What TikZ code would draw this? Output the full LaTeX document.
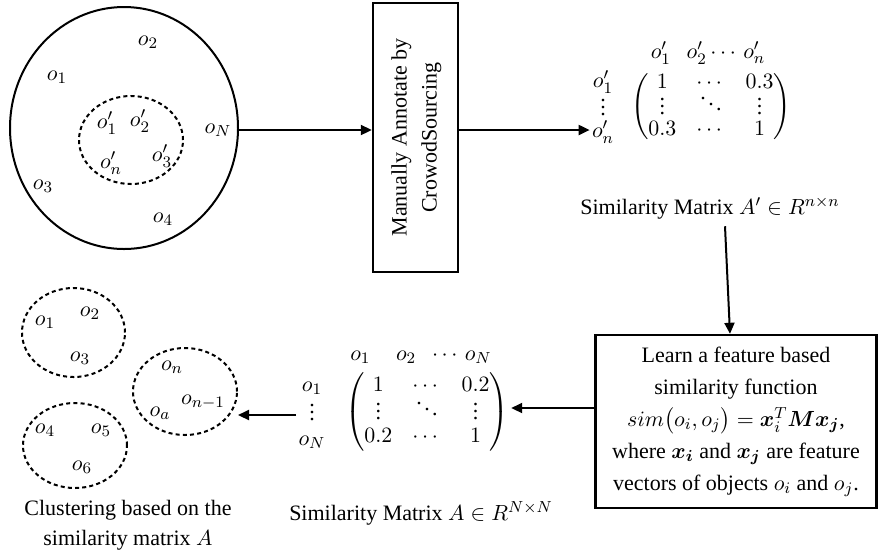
\documentclass[tikz,border=0pt]{standalone}
\usepackage{amsmath,amssymb}
\usepackage{fontspec}
\setmainfont{Liberation Serif}
\usepackage{tikz}
\usetikzlibrary{arrows.meta,positioning,shapes.geometric,calc}
\newcommand{\shortvdots}{\vcenter{\baselineskip3.6pt\lineskiplimit0pt\hbox{.}\hbox{.}\hbox{.}}}
\newcommand{\shortddots}{\mathinner{\mkern1mu\raise6pt\hbox{.}\mkern2mu\raise3.3pt\hbox{.}\mkern2mu\raise0.6pt\hbox{.}\mkern1mu}}

\begin{document}
\begin{tikzpicture}[x=0.5pt, y=-0.5pt,
  every node/.style={font=\fontsize{11}{15}\selectfont},
  blob/.style={draw, ellipse, line width=1pt, inner sep=0pt},
  group/.style={draw, ellipse, dash pattern=on 2pt off 1.6pt, line width=1pt, inner sep=0pt},
  obj/.style={inner sep=1pt},
  stepbox/.style={draw, line width=1.2pt, align=center, inner sep=2pt},
  mat/.style={inner sep=1pt, font=\fontsize{11}{11.75}\selectfont},
  rows/.style={inner sep=1pt, align=center, font=\fontsize{11}{#1}\selectfont},
  caption/.style={align=center, font=\fontsize{11}{15}\selectfont},
  flow/.style={-{Triangle[length=5.5pt,width=5pt]}, line width=1pt}
]
\useasboundingbox (0,0) rectangle (878,554);

% All objects and the annotated sample.
\node[blob, minimum width=114pt, minimum height=121pt] (universe) at (124,128) {};
\node[group, minimum width=52pt, minimum height=44pt] (sample) at (131,140) {};
\node[obj] (u1) at (57,77) {$o_1$};
\node[obj] (u2) at (148,42) {$o_2$};
\node[obj] (u3) at (43,186) {$o_3$};
\node[obj] (u4) at (163,219) {$o_4$};
\node[obj] (uN) at (218,130) {$o_N$};
\node[obj] (s1) at (107,123) {$o'_1$};
\node[obj] (s2) at (140,121) {$o'_2$};
\node[obj] (s3) at (162,156) {$o'_3$};
\node[obj] (sn) at (111,163) {$o'_n$};

% Crowd annotation.
\node[stepbox, minimum width=42.5pt, minimum height=134.5pt] (annot) at (415.5,137.5)
  {\rotatebox{90}{\begin{tabular}{@{}c@{}}Manually Annotate by\\CrowodSourcing\end{tabular}}};

% Annotated similarity matrix.
\node[mat] (hdrAp) at (708,53) {$o'_1\;\;\, o'_2\cdots\, o'_n$};
\node[rows=12.5pt] (rowAp) at (603,107) {$o'_1$\\$\shortvdots$\\$o'_n$};
\node[mat] (matAp) at (711,107) {$\begin{pmatrix} 1 & \cdots & 0.3\\ \shortvdots & \shortddots & \shortvdots\\ 0.3 & \cdots & 1\end{pmatrix}$};
\node[caption] (capAp) at (710,208) {Similarity Matrix $A'\in R^{n\times n}$};

\draw[flow] (universe.east |- 0,130) -- (annot.west |- 0,130);
\draw[flow] (annot.east |- 0,130) -- (rowAp.west |- 0,130);

% Learned similarity.
\node[stepbox, minimum width=140.5pt, minimum height=86.5pt,
  font=\fontsize{11}{16}\selectfont] (learn) at (736,421.5)
  {Learn a feature based\\ similarity function\\
   $sim\bigl(o_i,o_j\bigr)=\boldsymbol{x}_i^T\boldsymbol{M}\boldsymbol{x}_{\boldsymbol{j}}$,\\
   where $\boldsymbol{x}_{\boldsymbol{i}}$ and $\boldsymbol{x}_{\boldsymbol{j}}$ are feature\\
   vectors of objects $o_i$ and $o_j$.};

\draw[flow] ([xshift=7.5pt]capAp.south) -- ([xshift=-3pt]learn.north);

% Full similarity matrix.
\node[mat] (hdrA) at (421,357) {$o_1\quad\, o_2\;\;\cdots\, o_N$};
\node[rows=13.5pt] (rowA) at (312,415) {$o_1$\\$\shortvdots$\\$o_N$};
\node[mat] (matA) at (427,412) {$\begin{pmatrix} 1 & \cdots & 0.2\\[1pt] \shortvdots & \shortddots & \shortvdots\\[1pt] 0.2 & \cdots & 1\end{pmatrix}$};
\node[caption] (capA) at (421,513) {Similarity Matrix $A\in R^{N\times N}$};

\draw[flow] (learn.west |- 0,408) -- (matA.east |- 0,408);

% Clusters.
\node[group, minimum width=51.5pt, minimum height=44.5pt] (grpA) at (73.5,332.5) {};
\node[group, minimum width=52pt, minimum height=43.5pt] (grpB) at (185,391.5) {};
\node[group, minimum width=52pt, minimum height=42.5pt] (grpC) at (75,445.5) {};
\node[obj] (c1) at (45,322) {$o_1$};
\node[obj] (c2) at (90,313) {$o_2$};
\node[obj] (c3) at (80,358) {$o_3$};
\node[obj] (cn) at (172,367) {$o_n$};
\node[obj] (cm) at (203,402) {$o_{n-1}$};
\node[obj] (ca) at (160,413) {$o_a$};
\node[obj] (c4) at (45,430) {$o_4$};
\node[obj] (c5) at (101,430) {$o_5$};
\node[obj] (c6) at (82,467) {$o_6$};
\node[caption] (capC) at (128,525) {Clustering based on the\\similarity matrix $A$};

\draw[flow] (rowA.west) -- (rowA.west -| grpB.east);

\end{tikzpicture}
\end{document}
